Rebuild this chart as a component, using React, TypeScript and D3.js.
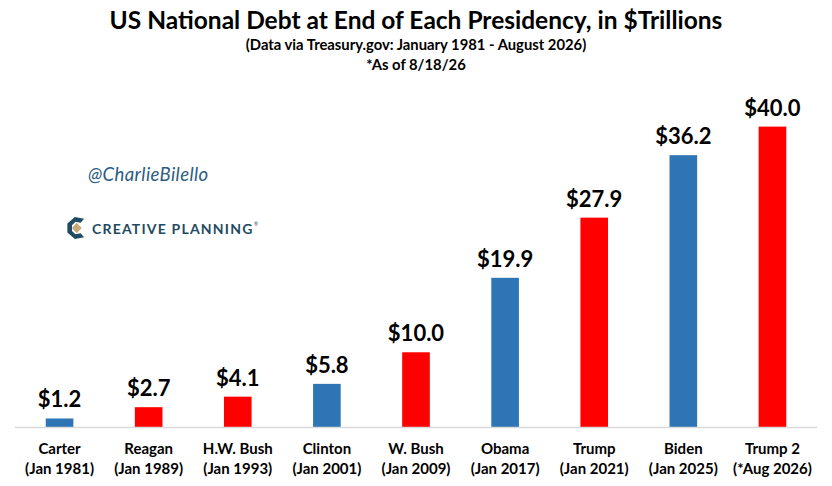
import React from 'react';
import * as d3 from 'd3';

// Presidencies and debt at end of term ($ trillions)
const presidents = ['Carter', 'Reagan', 'H.W. Bush', 'Clinton', 'W. Bush', 'Obama', 'Trump', 'Biden', 'Trump 2'];
const periods = ['(Jan 1981)', '(Jan 1989)', '(Jan 1993)', '(Jan 2001)', '(Jan 2009)', '(Jan 2017)', '(Jan 2021)', '(Jan 2025)', '(*Aug 2026)'];
const debt = [1.2, 2.7, 4.1, 5.8, 10.0, 19.9, 27.9, 36.2, 40.0];
const party = ['D', 'R', 'R', 'D', 'R', 'D', 'R', 'D', 'R'];

const W = 832;
const H = 486;
const FONT = "Lato, 'Open Sans', sans-serif";

const App = () => {
  const x = d3.scaleBand<string>()
    .domain(presidents)
    .range([15, 817])
    .paddingInner(0.69)
    .paddingOuter(0.345);

  const y = d3.scaleLinear()
    .domain([0, 45])
    .range([427.5, 89]);

  const color = (p: string) => (p === 'D' ? '#2e75b6' : '#ff0000');

  return (
    <svg width={W} height={H} style={{ position: 'absolute', left: 0, top: 0, background: '#fff' }}
      fontFamily={FONT}>
      {/* titles */}
      <text x={W / 2} y={29} textAnchor="middle" fontSize={24.5} fontWeight={700} fill="#000">
        US National Debt at End of Each Presidency, in $Trillions
      </text>
      <text x={W / 2} y={50} textAnchor="middle" fontSize={14.8} fontWeight={700} fill="#000">
        (Data via Treasury.gov: January 1981 - August 2026)
      </text>
      <text x={W / 2} y={70} textAnchor="middle" fontSize={14.8} fontWeight={700} fill="#000">
        *As of 8/18/26
      </text>

      {/* watermark */}
      <text x={88} y={181} fontSize={18.5} fontStyle="italic" fill="#2b5c80" letterSpacing={0.4}>
        @CharlieBilello
      </text>
      <g transform="translate(76,228) scale(1.15)">
        <path d="M7,-8 L-1,-9.5 L-7.5,-4 L-7.5,4 L-1,9.5 L7,8 L4,4.5 L-0.5,5.5 L-3.5,2.5 L-3.5,-2.5 L-0.5,-5.5 L4,-4.5 Z"
          fill="#1f4a63" />
        <path d="M0.5,-4.5 L5,0 L0.5,4.5 L-3.5,0 Z" fill="#c9a979" />
      </g>
      <text x={92} y={234} fontSize={14} fontWeight={700} fill="#1f4a63" letterSpacing={1.2}>
        CREATIVE PLANNING
      </text>
      <text x={254} y={226} fontSize={5} fill="#1f4a63">®</text>

      {/* bars */}
      {debt.map((v, i) => (
        <rect key={presidents[i]}
          x={x(presidents[i])}
          y={y(v)}
          width={x.bandwidth()}
          height={y(0) - y(v)}
          fill={color(party[i])} />
      ))}

      {/* value labels */}
      {debt.map((v, i) => (
        <text key={'v' + i}
          x={(x(presidents[i]) ?? 0) + x.bandwidth() / 2}
          y={y(v) - 11}
          textAnchor="middle" fontSize={22} fontWeight={700} fill="#000">
          {'$' + v.toFixed(1)}
        </text>
      ))}

      {/* axis line */}
      <line x1={15} x2={817} y1={y(0)} y2={y(0)} stroke="#d9d9d9" strokeWidth={1.5} />

      {/* category labels */}
      {presidents.map((p, i) => (
        <g key={'c' + i} transform={`translate(${(x(p) ?? 0) + x.bandwidth() / 2},0)`}>
          <text y={454} textAnchor="middle" fontSize={15} fontWeight={700} fill="#000">{p}</text>
          <text y={474} textAnchor="middle" fontSize={15} fontWeight={700} fill="#000">{periods[i]}</text>
        </g>
      ))}
    </svg>
  );
};

export default App;
